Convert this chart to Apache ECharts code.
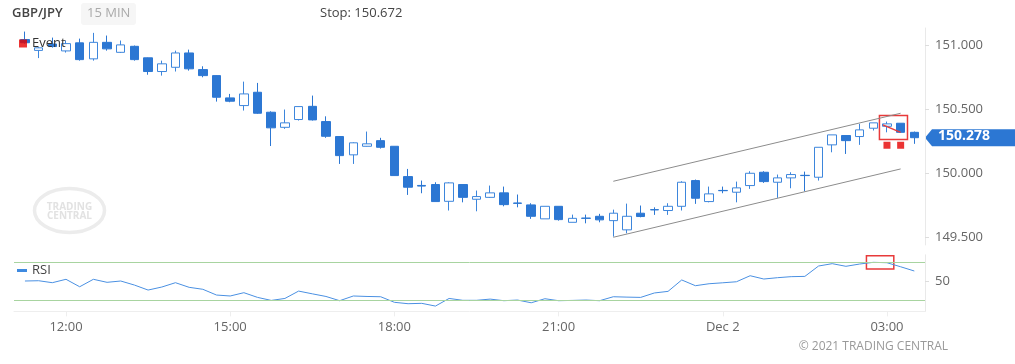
<!DOCTYPE html>
<html><head><meta charset="utf-8">
<script src="https://cdn.jsdelivr.net/npm/echarts@6/dist/echarts.min.js"></script>
<style>html,body{margin:0;padding:0;background:#fff}#c{width:1015px;height:364px}</style>
</head><body><div id="c"></div>
<script>
// ---- data (15-minute candles, 11:15 -> 03:30) ----
const opens  = [151.045,150.960,151.010,150.956,151.019,150.894,151.023,150.945,150.992,150.902,
                150.795,150.828,150.940,150.810,150.763,150.589,150.529,150.633,150.477,150.359,
                150.420,150.523,150.404,150.287,150.144,150.211,150.255,150.211,149.974,149.905,
                149.912,149.781,149.912,149.797,149.812,149.847,149.768,149.753,149.644,149.742,
                149.617,149.650,149.664,149.630,149.558,149.688,149.716,149.709,149.742,149.943,
                149.779,149.866,149.852,149.904,150.008,149.930,149.964,149.984,149.969,150.222,
                150.295,150.287,150.352,150.367,150.391,150.320];
const closes = [151.020,150.980,150.990,151.013,150.888,151.023,150.972,151.003,150.888,150.795,
                150.855,150.940,150.816,150.763,150.594,150.563,150.620,150.469,150.355,150.394,
                150.521,150.417,150.289,150.138,150.238,150.230,150.203,149.982,149.891,149.900,
                149.779,149.925,149.812,149.818,149.847,149.755,149.765,149.664,149.742,149.638,
                149.648,149.648,149.636,149.688,149.664,149.662,149.714,149.742,149.930,149.805,
                149.839,149.864,149.886,150.000,149.935,149.964,149.990,149.982,150.203,150.300,
                150.255,150.339,150.394,150.386,150.320,150.278];
const lows   = [151.013,150.900,150.982,150.943,150.880,150.880,150.958,150.940,150.880,150.770,
                150.763,150.795,150.802,150.750,150.560,150.555,150.490,150.464,150.213,150.347,
                150.412,150.412,150.277,150.073,150.073,150.209,150.193,149.982,149.831,149.844,
                149.779,149.709,149.773,149.703,149.807,149.742,149.734,149.644,149.644,149.630,
                149.617,149.609,149.617,149.505,149.531,149.656,149.675,149.675,149.709,149.761,
                149.773,149.844,149.773,149.878,149.925,149.808,149.883,149.859,149.943,150.164,
                150.151,150.222,150.334,150.320,150.317,150.230];
const highs  = [151.107,150.986,151.060,151.037,151.052,151.097,151.076,151.037,150.998,150.904,
                150.880,150.958,150.966,150.836,150.766,150.620,150.716,150.706,150.484,150.498,
                150.523,150.607,150.445,150.289,150.242,150.326,150.277,150.211,150.034,149.943,
                149.930,149.930,149.912,149.865,149.904,149.896,149.834,149.766,149.742,149.742,
                149.677,149.677,149.683,149.716,149.763,149.748,149.734,149.766,149.938,149.951,
                149.896,149.896,149.935,150.016,150.016,149.990,150.008,150.013,150.203,150.300,
                150.295,150.386,150.394,150.404,150.391,150.326];
const rsi    = [50.2,50.5,48.4,52.0,44.1,52.0,48.8,50.2,45.9,40.6,
                43.8,48.4,43.5,41.4,35.3,34.3,37.8,32.8,29.6,31.7,
                39.5,36.6,33.8,29.3,34.3,33.8,33.5,27.6,26.1,26.5,
                23.6,31.7,29.7,29.7,31.0,29.3,30.0,27.1,31.4,29.3,
                29.6,30.0,29.3,33.5,33.1,32.8,37.5,39.2,51.3,45.2,
                47.3,48.3,49.4,55.8,52.3,53.7,54.8,55.1,66.1,68.6,
                65.8,68.2,70.0,69.6,65.3,60.8];
const tickIndex  = [3, 15, 27, 39, 51, 63];
const tickLabels = ['12:00', '15:00', '18:00', '21:00', 'Dec 2', '03:00'];
const priceTicks = [149.5, 150.0, 150.5, 151.0];
const rsiTicks   = [50];
const rsiBands   = [70, 30];
const channelUpper = [[43, 149.9375], [64, 150.469]];
const channelLower = [[43, 149.500], [64, 150.034]];
const eventIdx   = [63, 64];
const eventPrice = 150.219;
const patternLine = [[62.7, 150.378], [64, 150.320]];
const patternBox  = [[62.45, 150.451], [64.5, 150.263]];
const rsiBox      = [[61.5, 77.0], [63.5, 62.9]];
const lastPrice = 150.278;
const stopPrice = 150.672;

const candles = opens.map((o, i) => [i, o, closes[i], lows[i], highs[i]]);
const FONT = '"Open Sans", sans-serif';
const BLUE = '#2c77d3', BLUE_L = '#3d86dc';

const chart = echarts.init(document.getElementById('c'), null, {renderer: 'canvas'});
const xCommon = {type: 'value', min: -0.8, max: 65.78, splitLine: {show: false}};
chart.setOption({
  animation: false,
  textStyle: {fontFamily: FONT},
  grid: [
    {left: 14, right: 90, top: 28, height: 216.96},
    {left: 14, right: 90, top: 254.8, height: 56.55}
  ],
  xAxis: [
    Object.assign({gridIndex: 0, show: false}, xCommon),
    Object.assign({gridIndex: 1,
      axisLine: {show: true, onZero: false, lineStyle: {color: '#eeeeee'}},
      axisTick: {show: true, customValues: tickIndex, length: 5, lineStyle: {color: '#eeeeee'}},
      axisLabel: {customValues: tickIndex, color: '#666', fontSize: 13, margin: 9, fontFamily: FONT,
        formatter: v => tickLabels[tickIndex.indexOf(Math.round(v))] || ''}
    }, xCommon)
  ],
  yAxis: [
    {gridIndex: 0, type: 'value', position: 'right', min: 149.44, max: 151.135, scale: true,
      splitLine: {show: false},
      axisLine: {show: true, onZero: false, lineStyle: {color: '#e9e9e9'}},
      axisTick: {show: true, customValues: priceTicks, length: 4, lineStyle: {color: '#dddddd'}},
      axisLabel: {customValues: priceTicks, color: '#666', fontSize: 13, margin: 10, fontFamily: FONT,
        formatter: v => v.toFixed(3)}},
    {gridIndex: 1, type: 'value', position: 'right', min: 18, max: 78,
      splitLine: {show: false},
      axisLine: {show: true, onZero: false, lineStyle: {color: '#e9e9e9'}},
      axisTick: {show: true, customValues: rsiTicks, length: 4, lineStyle: {color: '#dddddd'}},
      axisLabel: {customValues: rsiTicks, color: '#666', fontSize: 13, margin: 10, fontFamily: FONT}}
  ],
  legend: [
    {data: ['Event'], left: 19, top: 37, padding: 0, z: 20, icon: 'rect', itemWidth: 8, itemHeight: 8,
      selectedMode: false, textStyle: {color: '#333', fontSize: 13, fontFamily: FONT}},
    {data: ['RSI'], left: 17, top: 264, padding: 0, z: 20, icon: 'rect', itemWidth: 10, itemHeight: 3,
      selectedMode: false, textStyle: {color: '#444', fontSize: 13, fontFamily: FONT}}
  ],
  series: [
    {name: 'GBP/JPY', type: 'candlestick', xAxisIndex: 0, yAxisIndex: 0,
      data: candles, barWidth: 9,
      itemStyle: {color: '#ffffff', color0: BLUE, borderColor: BLUE_L, borderColor0: BLUE, borderWidth: 1}},
    {name: 'upper', type: 'line', xAxisIndex: 0, yAxisIndex: 0, data: channelUpper,
      symbol: 'none', lineStyle: {color: '#8c8c8c', width: 1}, silent: true},
    {name: 'lower', type: 'line', xAxisIndex: 0, yAxisIndex: 0, data: channelLower,
      symbol: 'none', lineStyle: {color: '#8c8c8c', width: 1}, silent: true},
    {name: 'Event', type: 'scatter', xAxisIndex: 0, yAxisIndex: 0,
      data: eventIdx.map(i => [i, eventPrice]), symbol: 'rect', symbolSize: 7,
      itemStyle: {color: '#e60000'},
      markArea: {silent: true, itemStyle: {color: 'rgba(0,0,0,0)', borderColor: '#e83a3a', borderWidth: 1.5},
        data: [[{coord: patternBox[0]}, {coord: patternBox[1]}]]},
      markLine: {silent: true, symbol: 'none', label: {show: false},
        lineStyle: {color: '#e83a3a', width: 1.5, type: 'solid'},
        data: [[{coord: patternLine[0]}, {coord: patternLine[1]}]]}},
    {name: 'RSI', type: 'line', xAxisIndex: 1, yAxisIndex: 1,
      data: rsi.map((v, i) => [i, v]), symbol: 'none',
      itemStyle: {color: '#3f8ae0'}, lineStyle: {color: '#4a90e2', width: 1},
      markLine: {silent: true, symbol: 'none', label: {show: false},
        lineStyle: {color: '#a8d4a0', width: 1, type: 'solid'},
        data: rsiBands.map(v => ({yAxis: v}))},
      markArea: {silent: true, itemStyle: {color: 'rgba(0,0,0,0)', borderColor: '#e83a3a', borderWidth: 1.5},
        data: [[{coord: rsiBox[0]}, {coord: rsiBox[1]}]]}}
  ]
});

const py = chart.convertToPixel({gridIndex: 0}, [65, lastPrice])[1];
chart.setOption({
  graphic: [
    {type: 'text', left: 12, top: 7, style: {text: 'GBP/JPY', fill: '#444', font: '600 13px ' + FONT}},
    {type: 'rect', shape: {x: 81, y: 3, width: 55, height: 22, r: 3}, style: {fill: '#f6f6f6'}},
    {type: 'text', left: 87, top: 7, style: {text: '15 MIN', fill: '#aaa', font: '13px ' + FONT}},
    {type: 'text', left: 320, top: 7, style: {text: 'Stop: ' + stopPrice.toFixed(3), fill: '#444', font: '13px ' + FONT}},
    {type: 'group', left: 32, top: 186, silent: true, children: [
      {type: 'ellipse', shape: {cx: 36, cy: 23, rx: 35, ry: 22}, style: {fill: 'none', stroke: '#ececec', lineWidth: 3.5}},
      {type: 'text', x: 36, y: 15, style: {text: 'TRADING', fill: '#e2e2e2', font: 'bold 10px ' + FONT, align: 'center'}},
      {type: 'text', x: 36, y: 24, style: {text: 'CENTRAL', fill: '#e2e2e2', font: 'bold 10px ' + FONT, align: 'center'}}
    ]},
    {type: 'polygon', shape: {points: [[925, py], [932, py - 8.5], [1015, py - 8.5], [1015, py + 8.5], [932, py + 8.5]]},
      style: {fill: BLUE}},
    {type: 'text', x: 938, y: py - 9, style: {text: lastPrice.toFixed(3), fill: '#fff', font: 'bold 14px ' + FONT}},
    {type: 'text', right: 67, top: 341, style: {text: '\u00a9 2021 TRADING CENTRAL', fill: '#999', font: '12px ' + FONT}}
  ]
});
</script>
</body></html>
